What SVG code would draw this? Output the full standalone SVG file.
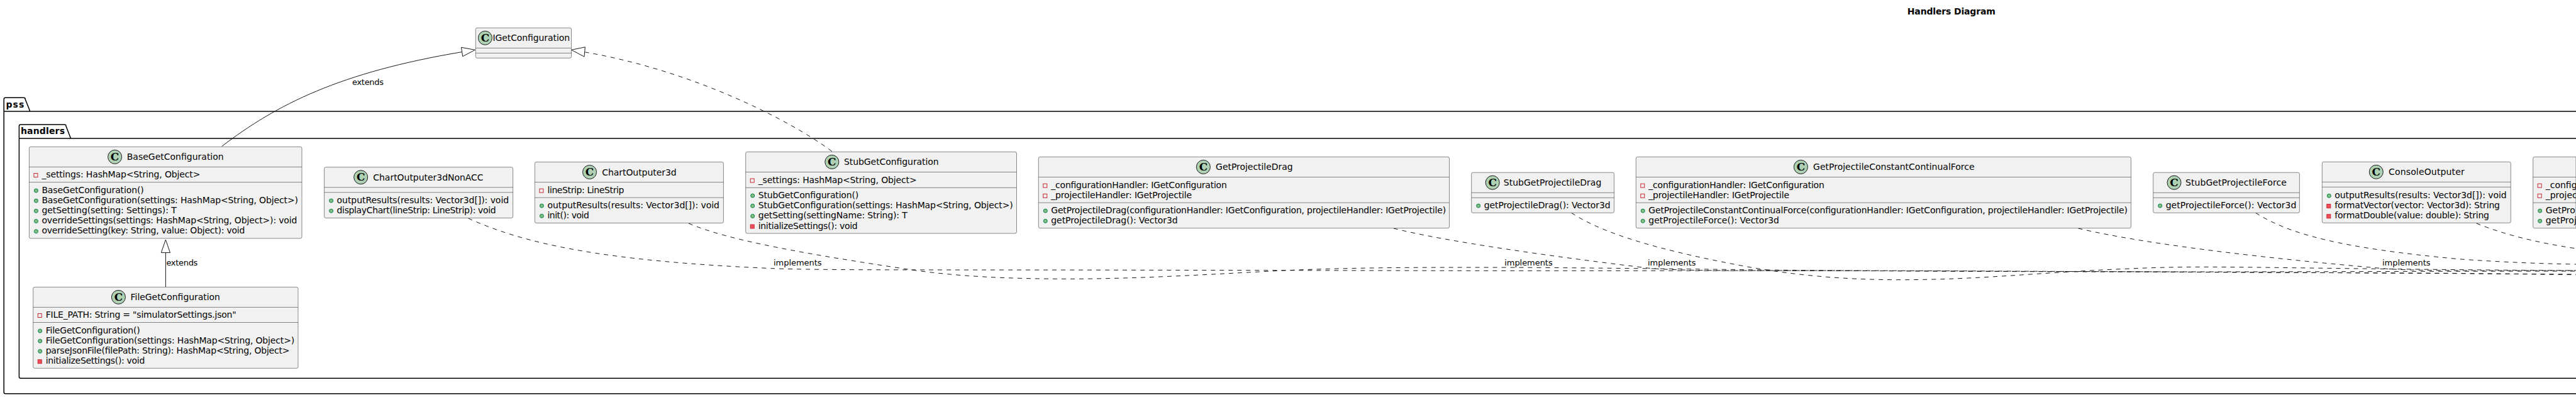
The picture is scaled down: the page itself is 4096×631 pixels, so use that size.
<svg xmlns="http://www.w3.org/2000/svg" width="4096" height="631" viewBox="0 0 4096 631">
<style>
text{font-family:"DejaVu Sans",sans-serif;fill:#000;font-size:14px}
.t{font-weight:bold}
.p{font-weight:bold}
.l{font-size:13px}
.pk{fill:none;stroke:#000;stroke-width:1.5}
.b{fill:#F1F1F1;stroke:#181818;stroke-width:.5}
.s{stroke:#181818;stroke-width:.5;fill:none}
.c{fill:#ADD1B2;stroke:#181818;stroke-width:1}
.g{font-family:"DejaVu Serif",serif;font-weight:bold;font-size:17px;text-anchor:middle}
.pub{fill:#84BE84;stroke:#038048;stroke-width:1}
.pf{fill:none;stroke:#C82930;stroke-width:1}
.pm{fill:#F24D5C;stroke:#C82930;stroke-width:1}
.e{fill:none;stroke:#181818;stroke-width:1}
.d{stroke-dasharray:7,7}
.a{fill:#fff;stroke:#181818;stroke-width:1}
</style>
<rect width="4096" height="631" fill="#fff"/>
<text class="t" x="3032.8" y="23" textLength="140">Handlers Diagram</text>
<g id="pkg-pss"><path class="pk" d="M6.2 157.8a2.5 2.5 0 0 1 2.5-2.5H37.7a2.5 2.5 0 0 1 2.5 2.5L47.8 177H4096M6.2 177H47.8M4096 625.8H8.7a2.5 2.5 0 0 1-2.5-2.5V157.8"/><text class="p" x="9.4" y="170.6" textLength="29">pss</text></g>
<g id="pkg-handlers"><path class="pk" d="M30.4 200.5a2.5 2.5 0 0 1 2.5-2.5H102.5a2.5 2.5 0 0 1 2.5 2.5L112.5 220H4096M30.4 220H112.5M4096 601.2H32.9a2.5 2.5 0 0 1-2.5-2.5V200.5"/><text class="p" x="33" y="213.3" textLength="70">handlers</text></g>

<g id="connectors">
<path class="e" d="M352.7 232.6C440 166 540 115 735 82.5"/>
<polygon class="a" points="733.5,75.3 755.4,79.3 735.7,89.7"/>
<text class="l" x="560" y="134.8" textLength="50">extends</text>
<path class="e" d="M263.4 456V401.6"/>
<polygon class="a" points="256.3,401.6 263.4,381 270.5,401.6"/>
<text class="l" x="264.4" y="422" textLength="50">extends</text>
<path class="e d" d="M1322.8 240.6C1255 190 1100 112 930.4 82.9"/>
<polygon class="a" points="930.4,74.8 908.5,79.3 929,90.1"/>
<path class="e d" d="M744.6 347C835 388 960 415 1226.8 426.6C1300 429.8 1500 428.6 1820 429.3L2340 430.3L2860 430.3C3100 430.5 3400 432.3 3900 434.3L4096 436.7"/>
<text class="l" x="1230" y="421.7" textLength="76.5">implements</text>
<path class="e d" d="M1095 355C1160 383 1290 405 1450 429C1520 439 1600 443.3 1700 443.3C1810 443.3 1930 435.7 2040 430C2140 425.5 2240 425 2340 425C2500 425 2700 428 2860 429.5C3100 431.5 3250 432 3380 431.7C3600 433 3900 434.5 4096 436"/>
<path class="e d" d="M2216 363C2300 384 2470 408 2620 426C2670 431 2770 430 2860 430C3100 430 3300 432 3500 432C3700 432 3900 431 4096 431"/>
<text class="l" x="2392.2" y="421.7" textLength="76.5">implements</text>
<path class="e d" d="M2498.7 338.4C2550 372 2640 398 2773 423C2850 437 2930 444.7 3020 444.7C3150 444.7 3240 433 3380 427.3C3430 425 3470 424.3 3500 424.3C3600 424.3 3750 428 4096 430"/>
<text class="l" x="2620" y="421.7" textLength="76.5">implements</text>
<path class="e d" d="M3304.5 363C3420 390 3620 412 3789 426.7C3830 431 3950 430 4096 430"/>
<text class="l" x="3788" y="421.7" textLength="76.5">implements</text>
<path class="e d" d="M3586.7 338.4C3640 372 3720 394 3909 411.7C3970 416 4030 419 4096 420"/>
<path class="e d" d="M3937.7 355C3980 372 4030 385 4096 395"/>
</g>

<g id="IGetConfiguration">
<rect class="b" x="756.3" y="44.3" width="152.2" height="48" rx="2.5"/>
<path class="s" d="M756.3 76.4H908.5M756.3 84.4H908.5"/>
<circle class="c" cx="771.4" cy="60.3" r="11"/><text class="g" x="771.4" y="66">C</text>
<text x="783.5" y="65.3" textLength="122.5">IGetConfiguration</text>
</g>

<g id="BaseGetConfiguration">
<rect class="b" x="46.4" y="233.3" width="433.6" height="145.6" rx="2.5"/>
<path class="s" d="M46.4 265.4H480M46.4 289.6H480"/>
<circle class="c" cx="182.6" cy="249.4" r="11"/><text class="g" x="182.6" y="255">C</text>
<text x="201.7" y="254.4" textLength="154">BaseGetConfiguration</text>
<rect class="pf" x="53.9" y="275.5" width="6" height="6"/><text x="66.4" y="282" textLength="252">_settings: HashMap&lt;String, Object&gt;</text>
<circle class="pub" cx="57.4" cy="303" r="3"/><text x="66.4" y="306.6" textLength="162.3">BaseGetConfiguration()</text>
<circle class="pub" cx="57.4" cy="319.1" r="3"/><text x="66.4" y="322.8" textLength="407.6">BaseGetConfiguration(settings: HashMap&lt;String, Object&gt;)</text>
<circle class="pub" cx="57.4" cy="335.3" r="3"/><text x="66.4" y="339" textLength="214.3">getSetting(setting: Settings): T</text>
<circle class="pub" cx="57.4" cy="351.5" r="3"/><text x="66.4" y="355.2" textLength="406">overrideSettings(settings: HashMap&lt;String, Object&gt;): void</text>
<circle class="pub" cx="57.4" cy="367.7" r="3"/><text x="66.4" y="371.4" textLength="323">overrideSetting(key: String, value: Object): void</text>
</g>

<g id="FileGetConfiguration">
<rect class="b" x="52.7" y="456.3" width="421.3" height="129" rx="2.5"/>
<path class="s" d="M52.7 488.4H474M52.7 512.5H474"/>
<circle class="c" cx="188.4" cy="472.3" r="11"/><text class="g" x="188.4" y="478">C</text>
<text x="207.6" y="477.3" textLength="142.3">FileGetConfiguration</text>
<rect class="pf" x="60.2" y="498.5" width="6" height="6"/><text x="72.7" y="505" textLength="303">FILE_PATH: String = "simulatorSettings.json"</text>
<circle class="pub" cx="63.7" cy="526" r="3"/><text x="72.7" y="529.6" textLength="150">FileGetConfiguration()</text>
<circle class="pub" cx="63.7" cy="542.1" r="3"/><text x="72.7" y="545.8" textLength="395.5">FileGetConfiguration(settings: HashMap&lt;String, Object&gt;)</text>
<circle class="pub" cx="63.7" cy="558.3" r="3"/><text x="72.7" y="562" textLength="387.8">parseJsonFile(filePath: String): HashMap&lt;String, Object&gt;</text>
<rect class="pm" x="60.2" y="571.7" width="6" height="6"/><text x="72.7" y="578.2" textLength="157.6">initializeSettings(): void</text>
</g>

<g id="ChartOutputer3dNonACC">
<rect class="b" x="515.6" y="265.7" width="300" height="80.8" rx="2.5"/>
<path class="s" d="M515.6 297.8H815.6M515.6 305.8H815.6"/>
<circle class="c" cx="573.7" cy="281.7" r="11"/><text class="g" x="573.7" y="287.4">C</text>
<text x="593.3" y="286.7" textLength="175.3">ChartOutputer3dNonACC</text>
<circle class="pub" cx="526.6" cy="319" r="3"/><text x="535.6" y="322.7" textLength="273.5">outputResults(results: Vector3d[]): void</text>
<circle class="pub" cx="526.6" cy="335.2" r="3"/><text x="535.6" y="338.9" textLength="253">displayChart(lineStrip: LineStrip): void</text>
</g>

<g id="ChartOutputer3d">
<rect class="b" x="850.4" y="257.5" width="300" height="97" rx="2.5"/>
<path class="s" d="M850.4 289.6H1150.4M850.4 314.1H1150.4"/>
<circle class="c" cx="937.5" cy="273.5" r="11"/><text class="g" x="937.5" y="279.2">C</text>
<text x="957.2" y="278.5" textLength="118.5">ChartOutputer3d</text>
<rect class="pf" x="857.9" y="300.1" width="6" height="6"/><text x="870.4" y="306.6" textLength="122">lineStrip: LineStrip</text>
<circle class="pub" cx="861.4" cy="327.1" r="3"/><text x="870.4" y="330.8" textLength="273.5">outputResults(results: Vector3d[]): void</text>
<circle class="pub" cx="861.4" cy="343.3" r="3"/><text x="870.4" y="347" textLength="66.5">init(): void</text>
</g>

<g id="StubGetConfiguration">
<rect class="b" x="1185.7" y="241.4" width="430.8" height="129.6" rx="2.5"/>
<path class="s" d="M1185.7 273.5H1616.5M1185.7 298.3H1616.5"/>
<circle class="c" cx="1322.8" cy="257.4" r="11"/><text class="g" x="1322.8" y="263.1">C</text>
<text x="1342" y="262.4" textLength="150.7">StubGetConfiguration</text>
<rect class="pf" x="1193.2" y="284" width="6" height="6"/><text x="1205.7" y="290.5" textLength="252">_settings: HashMap&lt;String, Object&gt;</text>
<circle class="pub" cx="1196.7" cy="311" r="3"/><text x="1205.7" y="314.7" textLength="159.5">StubGetConfiguration()</text>
<circle class="pub" cx="1196.7" cy="327.2" r="3"/><text x="1205.7" y="330.9" textLength="405">StubGetConfiguration(settings: HashMap&lt;String, Object&gt;)</text>
<circle class="pub" cx="1196.7" cy="343.5" r="3"/><text x="1205.7" y="347.2" textLength="237">getSetting(settingName: String): T</text>
<rect class="pm" x="1193.2" y="357" width="6" height="6"/><text x="1205.7" y="363.5" textLength="158">initializeSettings(): void</text>
</g>

<g id="GetProjectileDrag">
<rect class="b" x="1651.3" y="249.4" width="653.2" height="113.2" rx="2.5"/>
<path class="s" d="M1651.3 281.5H2304.5M1651.3 322.2H2304.5"/>
<circle class="c" cx="1913.4" cy="265.4" r="11"/><text class="g" x="1913.4" y="271.1">C</text>
<text x="1933.1" y="270.4" textLength="122.5">GetProjectileDrag</text>
<rect class="pf" x="1658.8" y="292.1" width="6" height="6"/><text x="1671.3" y="298.6" textLength="279.5">_configurationHandler: IGetConfiguration</text>
<rect class="pf" x="1658.8" y="308.3" width="6" height="6"/><text x="1671.3" y="314.8" textLength="223.8">_projectileHandler: IGetProjectile</text>
<circle class="pub" cx="1662.3" cy="335.1" r="3"/><text x="1671.3" y="338.8" textLength="627.8">GetProjectileDrag(configurationHandler: IGetConfiguration, projectileHandler: IGetProjectile)</text>
<circle class="pub" cx="1662.3" cy="351.3" r="3"/><text x="1671.3" y="355" textLength="201.4">getProjectileDrag(): Vector3d</text>
</g>

<g id="StubGetProjectileDrag">
<rect class="b" x="2339.7" y="274.2" width="226.8" height="64.1" rx="2.5"/>
<path class="s" d="M2339.7 306.3H2566.5M2339.7 314.3H2566.5"/>
<circle class="c" cx="2373.2" cy="290.2" r="11"/><text class="g" x="2373.2" y="295.9">C</text>
<text x="2390.8" y="295.2" textLength="155.5">StubGetProjectileDrag</text>
<circle class="pub" cx="2350.7" cy="327.1" r="3"/><text x="2359.7" y="330.8" textLength="201">getProjectileDrag(): Vector3d</text>
</g>

<g id="GetProjectileConstantContinualForce">
<rect class="b" x="2601.3" y="249.4" width="787.1" height="113.2" rx="2.5"/>
<path class="s" d="M2601.3 281.5H3388.4M2601.3 322.2H3388.4"/>
<circle class="c" cx="2863.4" cy="265.4" r="11"/><text class="g" x="2863.4" y="271.1">C</text>
<text x="2883.1" y="270.4" textLength="256.5">GetProjectileConstantContinualForce</text>
<rect class="pf" x="2608.8" y="292.1" width="6" height="6"/><text x="2621.3" y="298.6" textLength="279.5">_configurationHandler: IGetConfiguration</text>
<rect class="pf" x="2608.8" y="308.3" width="6" height="6"/><text x="2621.3" y="314.8" textLength="223.8">_projectileHandler: IGetProjectile</text>
<circle class="pub" cx="2612.3" cy="335.1" r="3"/><text x="2621.3" y="338.8" textLength="761.7">GetProjectileConstantContinualForce(configurationHandler: IGetConfiguration, projectileHandler: IGetProjectile)</text>
<circle class="pub" cx="2612.3" cy="351.3" r="3"/><text x="2621.3" y="355" textLength="207.7">getProjectileForce(): Vector3d</text>
</g>

<g id="StubGetProjectileForce">
<rect class="b" x="3423.7" y="274.2" width="232.7" height="64.1" rx="2.5"/>
<path class="s" d="M3423.7 306.3H3656.4M3423.7 314.3H3656.4"/>
<circle class="c" cx="3457" cy="290.2" r="11"/><text class="g" x="3457" y="295.9">C</text>
<text x="3475" y="295.2" textLength="160.8">StubGetProjectileForce</text>
<circle class="pub" cx="3434.7" cy="327.1" r="3"/><text x="3443.7" y="330.8" textLength="207.6">getProjectileForce(): Vector3d</text>
</g>

<g id="ConsoleOutputer">
<rect class="b" x="3692.3" y="257.3" width="300" height="97" rx="2.5"/>
<path class="s" d="M3692.3 289.3H3992.3M3692.3 297.3H3992.3"/>
<circle class="c" cx="3778.3" cy="273.3" r="11"/><text class="g" x="3778.3" y="279">C</text>
<text x="3798" y="278.3" textLength="120.8">ConsoleOutputer</text>
<circle class="pub" cx="3703.3" cy="311.2" r="3"/><text x="3712.3" y="314.9" textLength="273.3">outputResults(results: Vector3d[]): void</text>
<rect class="pm" x="3699.8" y="324.6" width="6" height="6"/><text x="3712.3" y="331.1" textLength="262.7">formatVector(vector: Vector3d): String</text>
<rect class="pm" x="3699.8" y="340.8" width="6" height="6"/><text x="3712.3" y="347.3" textLength="245.7">formatDouble(value: double): String</text>
</g>

<g id="ClippedHandlerClass">
<path class="b" d="M4096 249.4H4030.2a2.5 2.5 0 0 0-2.5 2.5V360.1a2.5 2.5 0 0 0 2.5 2.5H4096Z"/>
<path class="s" d="M4027.7 281.5H4096M4027.7 322.2H4096"/>
<rect class="pf" x="4035.2" y="292.1" width="6" height="6"/><text x="4047.7" y="298.6">_config</text>
<rect class="pf" x="4035.2" y="308.3" width="6" height="6"/><text x="4047.7" y="314.8">_projec</text>
<circle class="pub" cx="4038.7" cy="335.1" r="3"/><text x="4047.7" y="338.8">GetPro</text>
<circle class="pub" cx="4038.7" cy="351.3" r="3"/><text x="4047.7" y="355">getProj</text>
</g>
</svg>
